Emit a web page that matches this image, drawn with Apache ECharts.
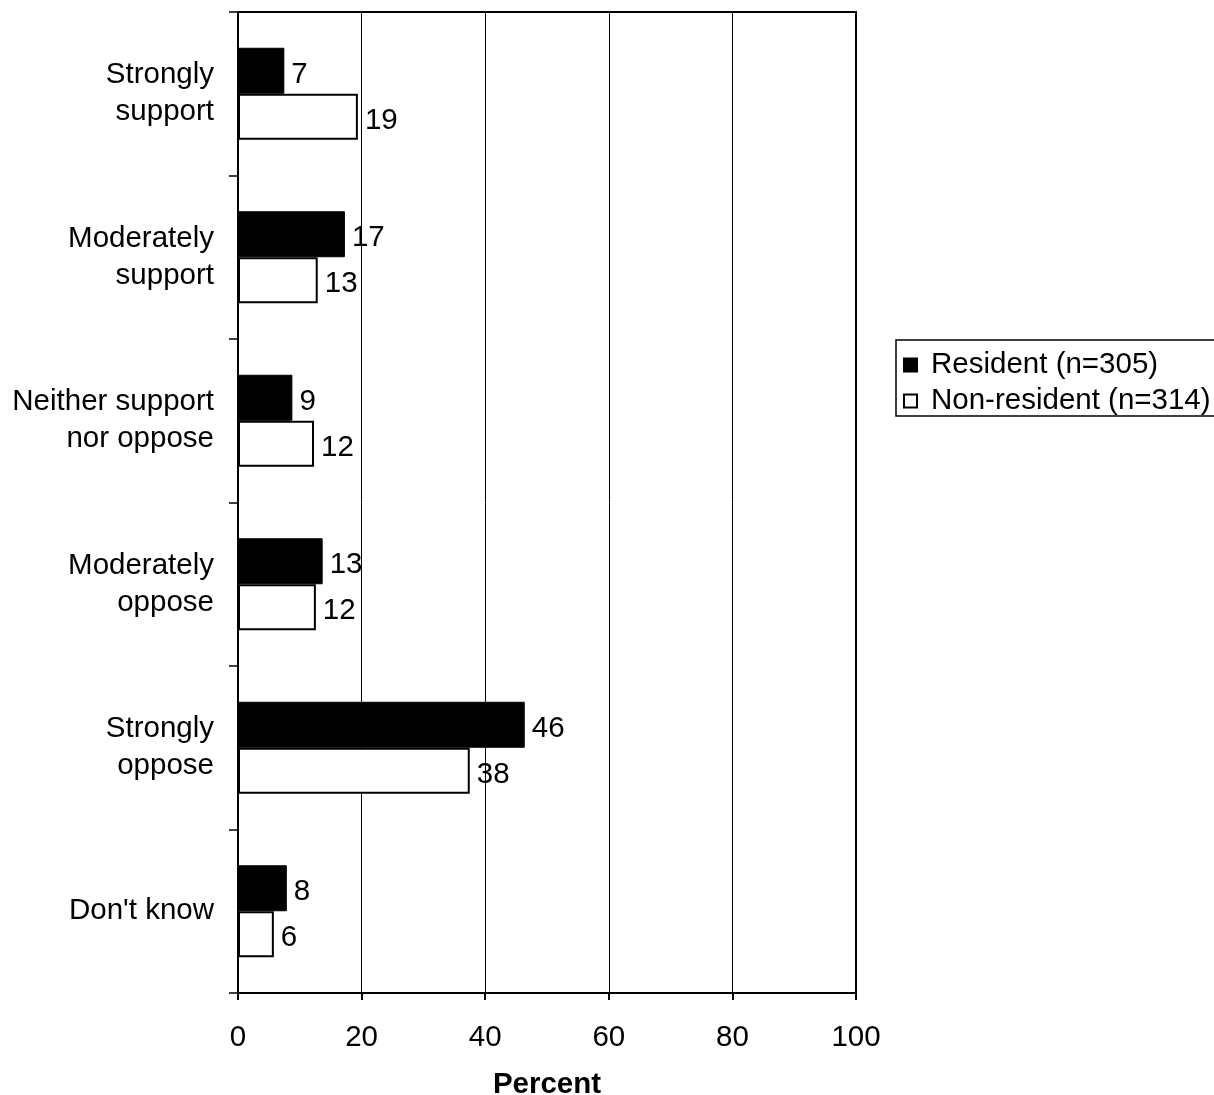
<!DOCTYPE html>
<html>
<head>
<meta charset="utf-8">
<script src="https://cdn.jsdelivr.net/npm/echarts@6/dist/echarts.min.js"></script>
<style>
html,body{margin:0;padding:0;background:#fff;}
#chart{width:1214px;height:1095px;}
</style>
</head>
<body>
<div id="chart"></div>
<script>
const categories = ['Strongly\nsupport', 'Moderately\nsupport', 'Neither support\nnor oppose', 'Moderately\noppose', 'Strongly\noppose', "Don't know"];
const seriesNames = ['Resident (n=305)', 'Non-resident (n=314)'];
const residentValues = [7.5, 17.3, 8.8, 13.7, 46.4, 7.9];
const nonResidentValues = [19.4, 12.9, 12.3, 12.6, 37.5, 5.8];
const residentLabels = ['7', '17', '9', '13', '46', '8'];
const nonResidentLabels = ['19', '13', '12', '12', '38', '6'];
const xTickLabels = ['0', '20', '40', '60', '80', '100'];

const FONT = 'Liberation Sans, Arial, sans-serif';
const FS = 29.5;
const chart = echarts.init(document.getElementById('chart'), null, {renderer: 'canvas'});
chart.setOption({
  animation: false,
  backgroundColor: '#fff',
  textStyle: {fontFamily: FONT, color: '#000'},
  grid: {left: 238, right: 358, top: 12, bottom: 102, containLabel: false, outerBoundsMode: 'none',
    show: true, borderColor: '#000', borderWidth: 2, backgroundColor: 'transparent'},
  legend: {
    orient: 'vertical', left: 896, top: 340,
    borderColor: '#000', borderWidth: 1.5, padding: [10, 8, 0, 7],
    itemGap: 6, itemWidth: 13, itemHeight: 13, icon: 'rect',
    textStyle: {fontSize: FS, color: '#000', fontFamily: FONT, padding: [0, 0, 0, 9], lineHeight: 28},
    data: seriesNames
  },
  xAxis: {
    type: 'value', min: 0, max: 100, interval: 20,
    axisLine: {show: true, lineStyle: {color: '#000', width: 2}},
    axisTick: {show: true, length: 7, lineStyle: {color: '#000', width: 2}},
    axisLabel: {fontSize: FS, color: '#000', fontFamily: FONT, margin: 30,
      formatter: (v) => xTickLabels[Math.round(v / 20)]},
    splitLine: {show: true, lineStyle: {color: '#000', width: 1}},
    name: 'Percent', nameLocation: 'middle', nameGap: 77,
    nameTextStyle: {fontSize: FS, fontWeight: 'bold', color: '#000', fontFamily: FONT}
  },
  yAxis: {
    type: 'category', data: categories, inverse: true,
    axisLine: {show: true, lineStyle: {color: '#000', width: 2}},
    axisTick: {show: true, length: 9, lineStyle: {color: '#000', width: 1.5}},
    axisLabel: {fontSize: FS, color: '#000', fontFamily: FONT, margin: 24, lineHeight: 37, align: 'right', padding: [14, 0, 0, 0]},
    splitLine: {show: false}
  },
  series: [
    {
      name: seriesNames[0], type: 'bar', data: residentValues, barWidth: 46, barGap: '0%',
      itemStyle: {color: '#000', borderColor: '#000', borderWidth: 1},
      label: {show: true, position: 'right', distance: 7, offset: [0, 4], fontSize: FS, color: '#000', fontFamily: FONT,
        formatter: (p) => residentLabels[p.dataIndex]}
    },
    {
      name: seriesNames[1], type: 'bar', data: nonResidentValues, barWidth: 46, barGap: '0%',
      itemStyle: {color: '#fff', borderColor: '#000', borderWidth: 2},
      label: {show: true, position: 'right', distance: 7, offset: [0, 4], fontSize: FS, color: '#000', fontFamily: FONT,
        formatter: (p) => nonResidentLabels[p.dataIndex]}
    }
  ]
});
</script>
</body>
</html>
